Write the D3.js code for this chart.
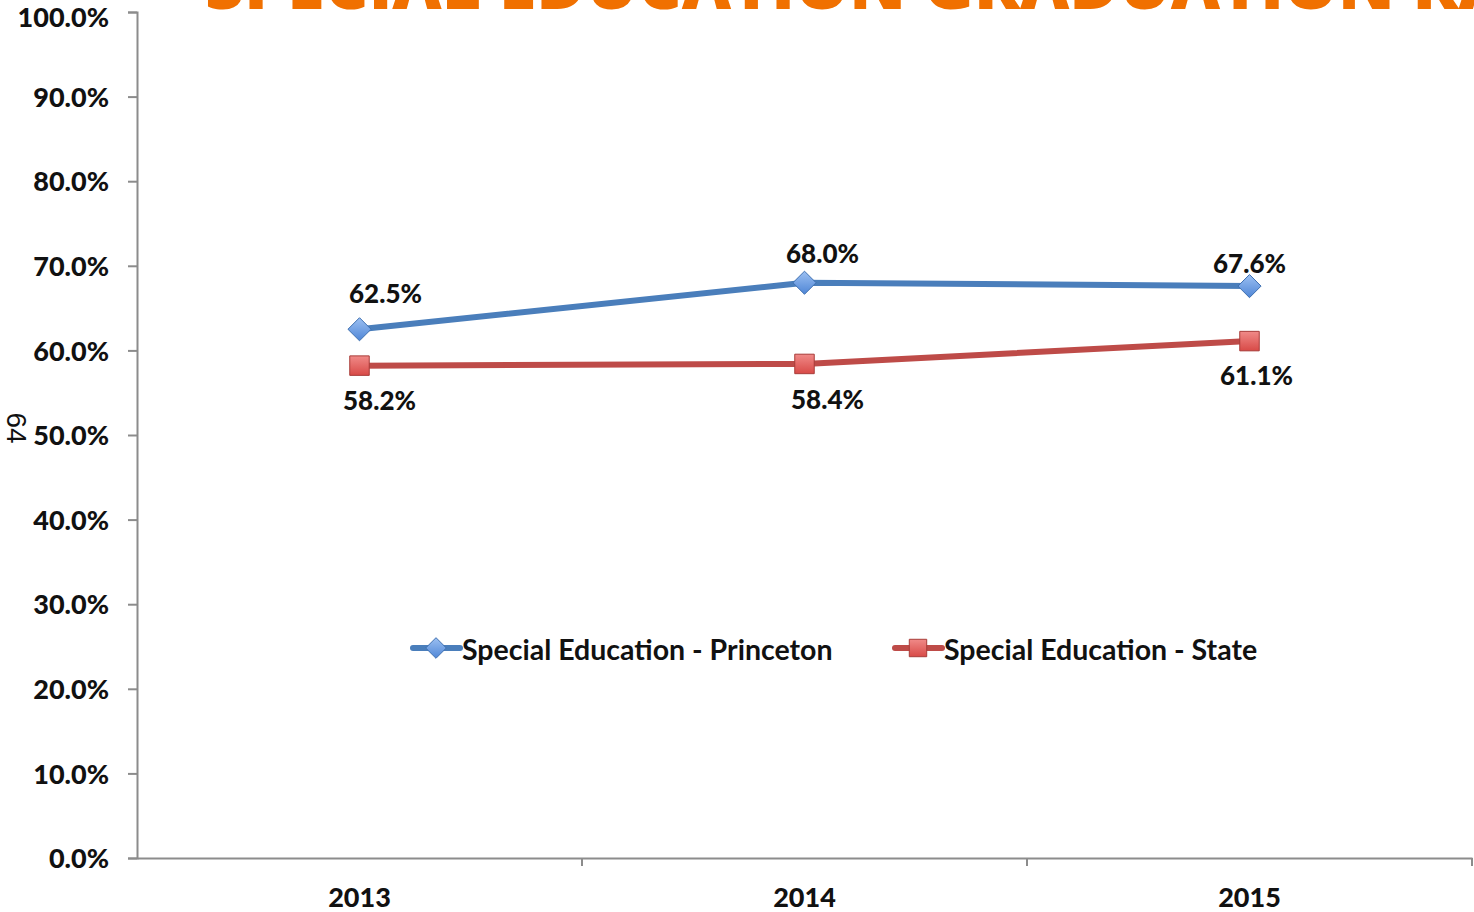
<!DOCTYPE html>
<html><head><meta charset="utf-8">
<script src="https://cdn.jsdelivr.net/npm/d3@7"></script>
<style>body{margin:0;background:#fff}svg{display:block}</style>
</head><body>
<svg id="c" width="1474" height="912"></svg>
<script>
const categories = ["2013", "2014", "2015"];
const princeton = [62.5, 68.0, 67.6];
const state = [58.2, 58.4, 61.1];
const seriesNames = ["Special Education - Princeton", "Special Education - State"];
const yTicks = [0, 10, 20, 30, 40, 50, 60, 70, 80, 90, 100];
const titleText = "SPECIAL EDUCATION GRADUATION RATES";

const svg = d3.select("#c");
const font = "Lato, 'Open Sans', sans-serif";
const x = d3.scaleBand().domain(categories).range([137, 1472]);
const y = d3.scaleLinear().domain([0, 100]).range([858, 12]);
const axisCol = "#8c8c8c";

// title (clipped at top, as in the source slide)
svg.append("text").attr("x", 205).attr("y", 9).attr("font-family", "'Open Sans', sans-serif")
  .attr("font-weight", 800).attr("font-size", 68).attr("fill", "#f07000").text(titleText);

// y axis
const ya = svg.append("g").attr("transform", "translate(137,0)")
  .call(d3.axisLeft(y).tickValues(yTicks).tickSize(9).tickPadding(29).tickFormat(d => d.toFixed(1) + "%"));
ya.select(".domain").attr("stroke", axisCol).attr("stroke-width", 2);
ya.selectAll(".tick line").attr("stroke", axisCol).attr("stroke-width", 2);
ya.selectAll(".tick text").attr("font-family", font).attr("font-weight", 900).attr("font-size", 27).attr("fill", "#111")
  .attr("x", -28).attr("dy", d => d === 100 ? "0.55em" : "0.36em");

// x axis
const xa = svg.append("g").attr("transform", "translate(0,858)")
  .call(d3.axisBottom(x).tickSize(0).tickPadding(30));
xa.select(".domain").attr("stroke", axisCol).attr("stroke-width", 2);
xa.selectAll(".tick text").attr("font-family", font).attr("font-weight", 900).attr("font-size", 27).attr("fill", "#111");
const bounds = categories.map(c => x(c) + x.bandwidth());
svg.append("g").selectAll("line").data(bounds).join("line")
  .attr("x1", d => d).attr("x2", d => d).attr("y1", 858).attr("y2", 866)
  .attr("stroke", axisCol).attr("stroke-width", 2);

// side page number
svg.append("text").attr("transform", "translate(7,428) rotate(90)").attr("font-family", "'Liberation Sans', sans-serif")
  .attr("font-size", 28).attr("fill", "#111").attr("text-anchor", "middle").text("64");

// gradients
const defs = svg.append("defs");
const gb = defs.append("linearGradient").attr("id", "gb").attr("x1", 0).attr("y1", 0).attr("x2", 0).attr("y2", 1);
gb.append("stop").attr("offset", 0).attr("stop-color", "#9cc0f2");
gb.append("stop").attr("offset", 1).attr("stop-color", "#4f86d6");
const gr = defs.append("linearGradient").attr("id", "gr").attr("x1", 0).attr("y1", 0).attr("x2", 0).attr("y2", 1);
gr.append("stop").attr("offset", 0).attr("stop-color", "#f08a88");
gr.append("stop").attr("offset", 1).attr("stop-color", "#d84a47");

const cx = c => x(c) + x.bandwidth() / 2;
const series = [
  {name: seriesNames[0], vals: princeton, color: "#4a7ebb", fill: "url(#gb)", stroke: "#3d6fb0", shape: d3.symbolDiamond2, size: 340, labDy: [-26, -20, -13], dx: [26, 18, 0]},
  {name: seriesNames[1], vals: state, color: "#be4b48", fill: "url(#gr)", stroke: "#a83c39", shape: d3.symbolSquare, size: 380, labDy: [44, 45, 44], dx: [20, 23, 7]}
];
const line = d3.line().x((d, i) => cx(categories[i])).y(d => y(d));

series.forEach(s => {
  svg.append("path").datum(s.vals).attr("d", line).attr("fill", "none")
    .attr("stroke", s.color).attr("stroke-width", 6).attr("stroke-linejoin", "round");
  svg.append("g").selectAll("path").data(s.vals).join("path")
    .attr("transform", (d, i) => `translate(${cx(categories[i])},${y(d)})`)
    .attr("d", d3.symbol().type(s.shape).size(s.size))
    .attr("fill", s.fill).attr("stroke", s.stroke).attr("stroke-width", 1);
  svg.append("g").selectAll("text").data(s.vals).join("text")
    .attr("x", (d, i) => cx(categories[i]) + s.dx[i])
    .attr("y", (d, i) => y(d) + s.labDy[i])
    .attr("text-anchor", "middle").attr("font-family", font).attr("font-weight", 900)
    .attr("font-size", 26).attr("fill", "#111").text(d => d.toFixed(1) + "%");
});

// legend
const legX = [413, 895];
series.forEach((s, i) => {
  const g = svg.append("g").attr("transform", `translate(${legX[i]},648)`);
  g.append("line").attr("x1", 0).attr("x2", 47).attr("stroke", s.color).attr("stroke-width", 6).attr("stroke-linecap", "round");
  g.append("path").attr("transform", "translate(23,0)").attr("d", d3.symbol().type(s.shape).size(s.size * 0.8))
    .attr("fill", s.fill).attr("stroke", s.stroke).attr("stroke-width", 1);
  g.append("text").attr("x", 49).attr("y", 12).attr("font-family", font).attr("font-weight", 700)
    .attr("font-size", 28.5).attr("fill", "#111").text(s.name);
});
</script>
</body></html>
